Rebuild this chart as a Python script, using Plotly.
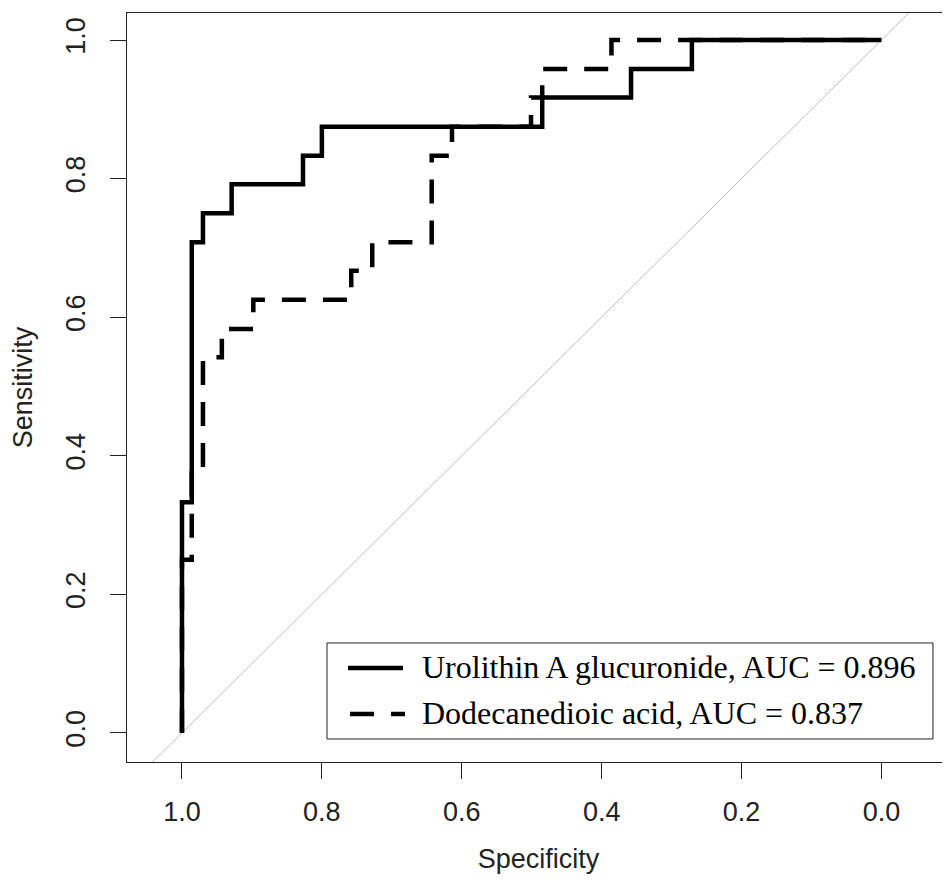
import plotly.graph_objects as go

# ROC corner points (specificity, sensitivity), step curves
uro_spec = [1.0, 0.986, 0.970, 0.929, 0.827, 0.800, 0.485, 0.358, 0.271, 0.0]
uro_sens = [0.0, 0.333, 0.708, 0.750, 0.792, 0.833, 0.875, 0.917, 0.958, 1.0]

dod_spec = [1.0, 0.986, 0.970, 0.943, 0.898, 0.758, 0.728, 0.643, 0.614, 0.501, 0.485, 0.386, 0.0]
dod_sens = [0.0, 0.250, 0.375, 0.542, 0.583, 0.625, 0.667, 0.708, 0.833, 0.875, 0.917, 0.958, 1.0]

uro_name = "Urolithin A glucuronide, AUC = 0.896"
dod_name = "Dodecanedioic acid, AUC = 0.837"

chance_spec = [1.2, -0.2]
chance_sens = [-0.2, 1.2]

tick_vals = [1.0, 0.8, 0.6, 0.4, 0.2, 0.0]
tick_text = ["1.0", "0.8", "0.6", "0.4", "0.2", "0.0"]

DASH = "24px,17px"
LW = 4.5

fig = go.Figure()
fig.add_trace(go.Scatter(x=chance_spec, y=chance_sens, mode="lines",
                         line=dict(color="#bdbdbd", width=1), showlegend=False,
                         hoverinfo="skip"))
fig.add_trace(go.Scatter(x=uro_spec, y=uro_sens, mode="lines", name=uro_name,
                         line=dict(color="black", width=LW, shape="vh"), showlegend=False))
fig.add_trace(go.Scatter(x=dod_spec, y=dod_sens, mode="lines", name=dod_name,
                         line=dict(color="black", width=LW, shape="vh", dash=DASH), showlegend=False))

sans = "Liberation Sans, Arial, sans-serif"
serif = "Liberation Serif, Times New Roman, serif"
axis_font = dict(family=sans, size=27, color="#222")

# custom legend box (paper coordinates of the plot area)
shapes = [
    dict(type="rect", xref="paper", yref="paper", x0=0.2430, x1=0.9793, y0=0.0307, y1=0.1589,
         line=dict(color="#222", width=1), fillcolor="white", layer="above"),
    dict(type="line", xref="paper", yref="paper", x0=0.2685, x1=0.3354, y0=0.1255, y1=0.1255,
         line=dict(color="black", width=LW), layer="above"),
    dict(type="line", xref="paper", yref="paper", x0=0.2710, x1=0.3378, y0=0.0641, y1=0.0641,
         line=dict(color="black", width=LW, dash=DASH), layer="above"),
]
annotations = [
    dict(xref="paper", yref="paper", x=0.3560, y=0.1268, xanchor="left", yanchor="middle",
         text=uro_name, showarrow=False, font=dict(family=serif, size=32, color="black")),
    dict(xref="paper", yref="paper", x=0.3560, y=0.0654, xanchor="left", yanchor="middle",
         text=dod_name, showarrow=False, font=dict(family=serif, size=32, color="black")),
]

fig.update_layout(
    width=942, height=866,
    margin=dict(l=119, r=0, t=5, b=112),
    plot_bgcolor="white", paper_bgcolor="white",
    shapes=shapes, annotations=annotations,
    xaxis=dict(range=[1.0786, -0.098], tickvals=tick_vals, ticktext=tick_text,
               showgrid=False, zeroline=False, showline=True, linecolor="#222",
               linewidth=1, mirror=True, ticks="outside", ticklen=16, tickcolor="#222",
               tickfont=axis_font, ticklabelstandoff=10,
               title=dict(text="Specificity", font=dict(family=sans, size=27, color="#222"), standoff=28)),
    yaxis=dict(range=[-0.042, 1.039], tickvals=tick_vals, ticktext=tick_text,
               showgrid=False, zeroline=False, showline=True, linecolor="#222",
               linewidth=1, mirror=False, ticks="outside", ticklen=16, tickcolor="#222",
               tickfont=axis_font, tickangle=-90, ticklabelstandoff=14,
               title=dict(text="Sensitivity", font=dict(family=sans, size=27, color="#222"), standoff=22)),
    showlegend=False,
)
fig.write_html("out.html")
